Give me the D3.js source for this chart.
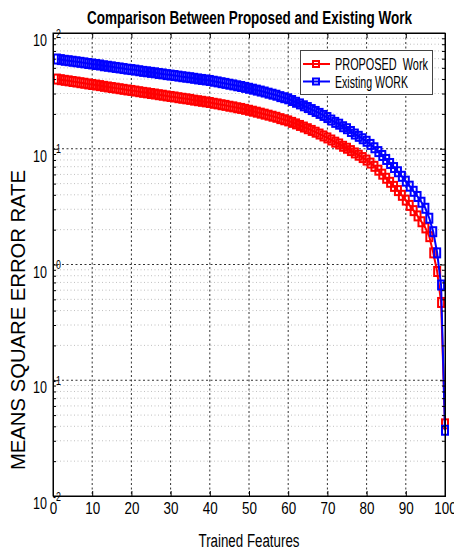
<!DOCTYPE html>
<html><head><meta charset="utf-8">
<script src="https://cdn.jsdelivr.net/npm/d3@7"></script>
<style>body{margin:0;background:#fff}svg{display:block}text{font-family:"Liberation Sans",Arial,sans-serif;white-space:pre}</style>
</head><body>
<svg id="c" width="454" height="552"></svg>
<script>
const features = d3.range(1, 101);
const proposed = [
 40.0,39.5,39.0,38.6,38.1,37.7,37.2,36.8,36.3,35.9,
 35.5,35.1,34.6,34.2,33.8,33.4,33.0,32.6,32.2,31.9,
 31.5,31.1,30.7,30.4,30.0,29.7,29.3,29.0,28.6,28.3,
 28.0,27.6,27.3,27.0,26.7,26.3,26.0,25.7,25.4,25.1,
 24.7,24.4,24.0,23.7,23.3,23.0,22.6,22.3,21.9,21.5,
 21.1,20.7,20.3,19.9,19.5,19.1,18.7,18.2,17.8,17.4,
 16.9,16.4,15.9,15.4,14.9,14.4,13.9,13.4,12.9,12.4,
 11.9,11.4,11.0,10.5,10.1,9.64,9.20,8.79,8.39,7.98,
 7.52,7.05,6.53,6.03,5.56,5.13,4.73,4.35,3.96,3.60,
 3.24,2.92,2.63,2.34,2.07,1.74,1.26,0.87,0.47,0.042];
const existing = [
 59.6,58.9,58.1,57.6,57.0,56.4,55.8,55.2,54.5,54.0,
 53.4,52.9,52.1,51.6,51.0,50.4,49.9,49.3,48.7,48.3,
 47.8,47.2,46.6,46.2,45.7,45.3,44.7,44.3,43.7,43.3,
 42.9,42.4,41.9,41.5,41.1,40.6,40.1,39.7,39.3,38.9,
 38.3,37.8,37.2,36.7,36.1,35.6,35.0,34.5,33.9,33.3,
 32.7,32.1,31.5,30.9,30.2,29.6,29.0,28.2,27.6,27.0,
 26.1,25.2,24.4,23.5,22.7,21.8,21.0,20.2,19.4,18.6,
 17.7,16.9,16.3,15.5,14.9,14.1,13.4,12.8,12.2,11.6,
 10.9,10.2,9.45,8.75,8.08,7.46,6.88,6.33,5.78,5.25,
 4.75,4.29,3.87,3.45,3.06,2.51,1.92,1.26,0.665,0.037];
const xTicks = [0,10,20,30,40,50,60,70,80,90,100];
const yExponents = ["-2","-1","0","1","2"];
const yTicks = [0.01,0.1,1,10,100];
const series = [
  {name:"PROPOSED  Work", values:proposed, color:"#ff0000"},
  {name:"Existing WORK", values:existing, color:"#0000ff"}
];
const titleText = "Comparison Between Proposed and Existing Work";
const xLabel = "Trained Features";
const yLabel = "MEANS SQUARE ERROR RATE";

const svg = d3.select("#c");
const L=53, R=445, T=33, B=496;
const x = d3.scaleLinear().domain([0,100]).range([L,R]);
const y = d3.scaleLog().domain([0.01,100]).range([B,T]);

const minors = [];
[-2,-1,0,1].forEach(e=>{for(let k=2;k<=9;k++) minors.push(k*Math.pow(10,e));});

svg.append("rect").attr("x",L).attr("y",T).attr("width",R-L).attr("height",B-T).attr("fill","#fff");

const grid = svg.append("g");
grid.selectAll(".mn").data(minors).join("line")
  .attr("x1",L).attr("x2",R).attr("y1",d=>y(d)).attr("y2",d=>y(d))
  .attr("stroke","#b0b0b0").attr("stroke-width",0.8).attr("stroke-dasharray","1,2.5");
grid.selectAll(".mjy").data(yTicks.slice(1,-1)).join("line")
  .attr("x1",L).attr("x2",R).attr("y1",d=>y(d)).attr("y2",d=>y(d))
  .attr("stroke","#333").attr("stroke-width",1).attr("stroke-dasharray","2,2.5");
grid.selectAll(".mjx").data(xTicks.slice(1,-1)).join("line")
  .attr("y1",T).attr("y2",B).attr("x1",d=>x(d)).attr("x2",d=>x(d))
  .attr("stroke","#333").attr("stroke-width",1).attr("stroke-dasharray","2,2.5");

const line = d3.line().x((d,i)=>x(features[i])).y(d=>y(d));
series.forEach(s=>{
  const g = svg.append("g");
  g.append("path").attr("d",line(s.values)).attr("fill","none").attr("stroke",s.color).attr("stroke-width",2);
  g.selectAll("rect").data(s.values).join("rect")
    .attr("x",(d,i)=>x(features[i])-3).attr("y",d=>y(d)-4.5)
    .attr("width",6).attr("height",9)
    .attr("fill","none").attr("stroke",s.color).attr("stroke-width",2);
});

const ax = svg.append("g");
const xb = ax.append("g").attr("transform",`translate(0,${B})`)
  .call(d3.axisBottom(x).tickValues(xTicks).tickSize(-5).tickFormat(""));
xb.selectAll(".tick").append("text")
  .attr("transform","translate(0,17.5) scale(0.84,1)")
  .attr("text-anchor","middle").attr("font-size",16).attr("fill","#000")
  .text(d=>d);
ax.append("g").attr("transform",`translate(0,${T})`)
  .call(d3.axisTop(x).tickValues(xTicks).tickSize(-5).tickFormat(""));
const yl = ax.append("g").attr("transform",`translate(${L},0)`)
  .call(d3.axisLeft(y).tickValues(yTicks).tickSize(-5).tickFormat(""));
yl.selectAll(".tick").each(function(d,i){
  const t = d3.select(this).append("g").attr("transform","translate(-6,0) scale(0.74,1)")
    .append("text").attr("text-anchor","end").attr("fill","#000");
  t.append("tspan").attr("y",12.5).attr("font-size",17).text("10");
  t.append("tspan").attr("y",4).attr("font-size",12).text(yExponents[i]);
});
ax.append("g").attr("transform",`translate(${L},0)`)
  .call(d3.axisLeft(y).tickValues(minors).tickSize(-3).tickFormat(""));
ax.append("g").attr("transform",`translate(${R},0)`)
  .call(d3.axisRight(y).tickValues(yTicks).tickSize(-5).tickFormat(""));
ax.append("g").attr("transform",`translate(${R},0)`)
  .call(d3.axisRight(y).tickValues(minors).tickSize(-3).tickFormat(""));
ax.selectAll(".domain").attr("stroke","#000");
ax.selectAll(".tick line").attr("stroke","#000");
svg.append("rect").attr("x",L).attr("y",T).attr("width",R-L).attr("height",B-T)
  .attr("fill","none").attr("stroke","#000").attr("stroke-width",1);

svg.append("text").attr("x",249.5).attr("y",24).attr("text-anchor","middle")
  .attr("font-size",18).attr("font-weight","bold").attr("textLength",325)
  .attr("lengthAdjust","spacingAndGlyphs").text(titleText);
svg.append("text").attr("x",249).attr("y",547).attr("text-anchor","middle")
  .attr("font-size",18).attr("textLength",101).attr("lengthAdjust","spacingAndGlyphs").text(xLabel);
svg.append("text").attr("transform","translate(24.5,320) rotate(-90)").attr("text-anchor","middle")
  .attr("font-size",20).attr("textLength",300).attr("lengthAdjust","spacingAndGlyphs").text(yLabel);

const lg = svg.append("g");
lg.append("rect").attr("x",300.5).attr("y",50.5).attr("width",132).attr("height",44)
  .attr("fill","#fff").attr("stroke","#444").attr("stroke-width",1);
const lw = [93,73];
series.forEach((s,i)=>{
  const yy = 64 + i*17.5;
  lg.append("line").attr("x1",303).attr("x2",330).attr("y1",yy).attr("y2",yy)
    .attr("stroke",s.color).attr("stroke-width",2);
  lg.append("rect").attr("x",313).attr("y",yy-3).attr("width",6).attr("height",6)
    .attr("fill","none").attr("stroke",s.color).attr("stroke-width",2);
  lg.append("text").attr("x",335).attr("y",yy+6).attr("font-size",16)
    .attr("textLength",lw[i]).attr("lengthAdjust","spacingAndGlyphs").text(s.name);
});
</script>
</body></html>
